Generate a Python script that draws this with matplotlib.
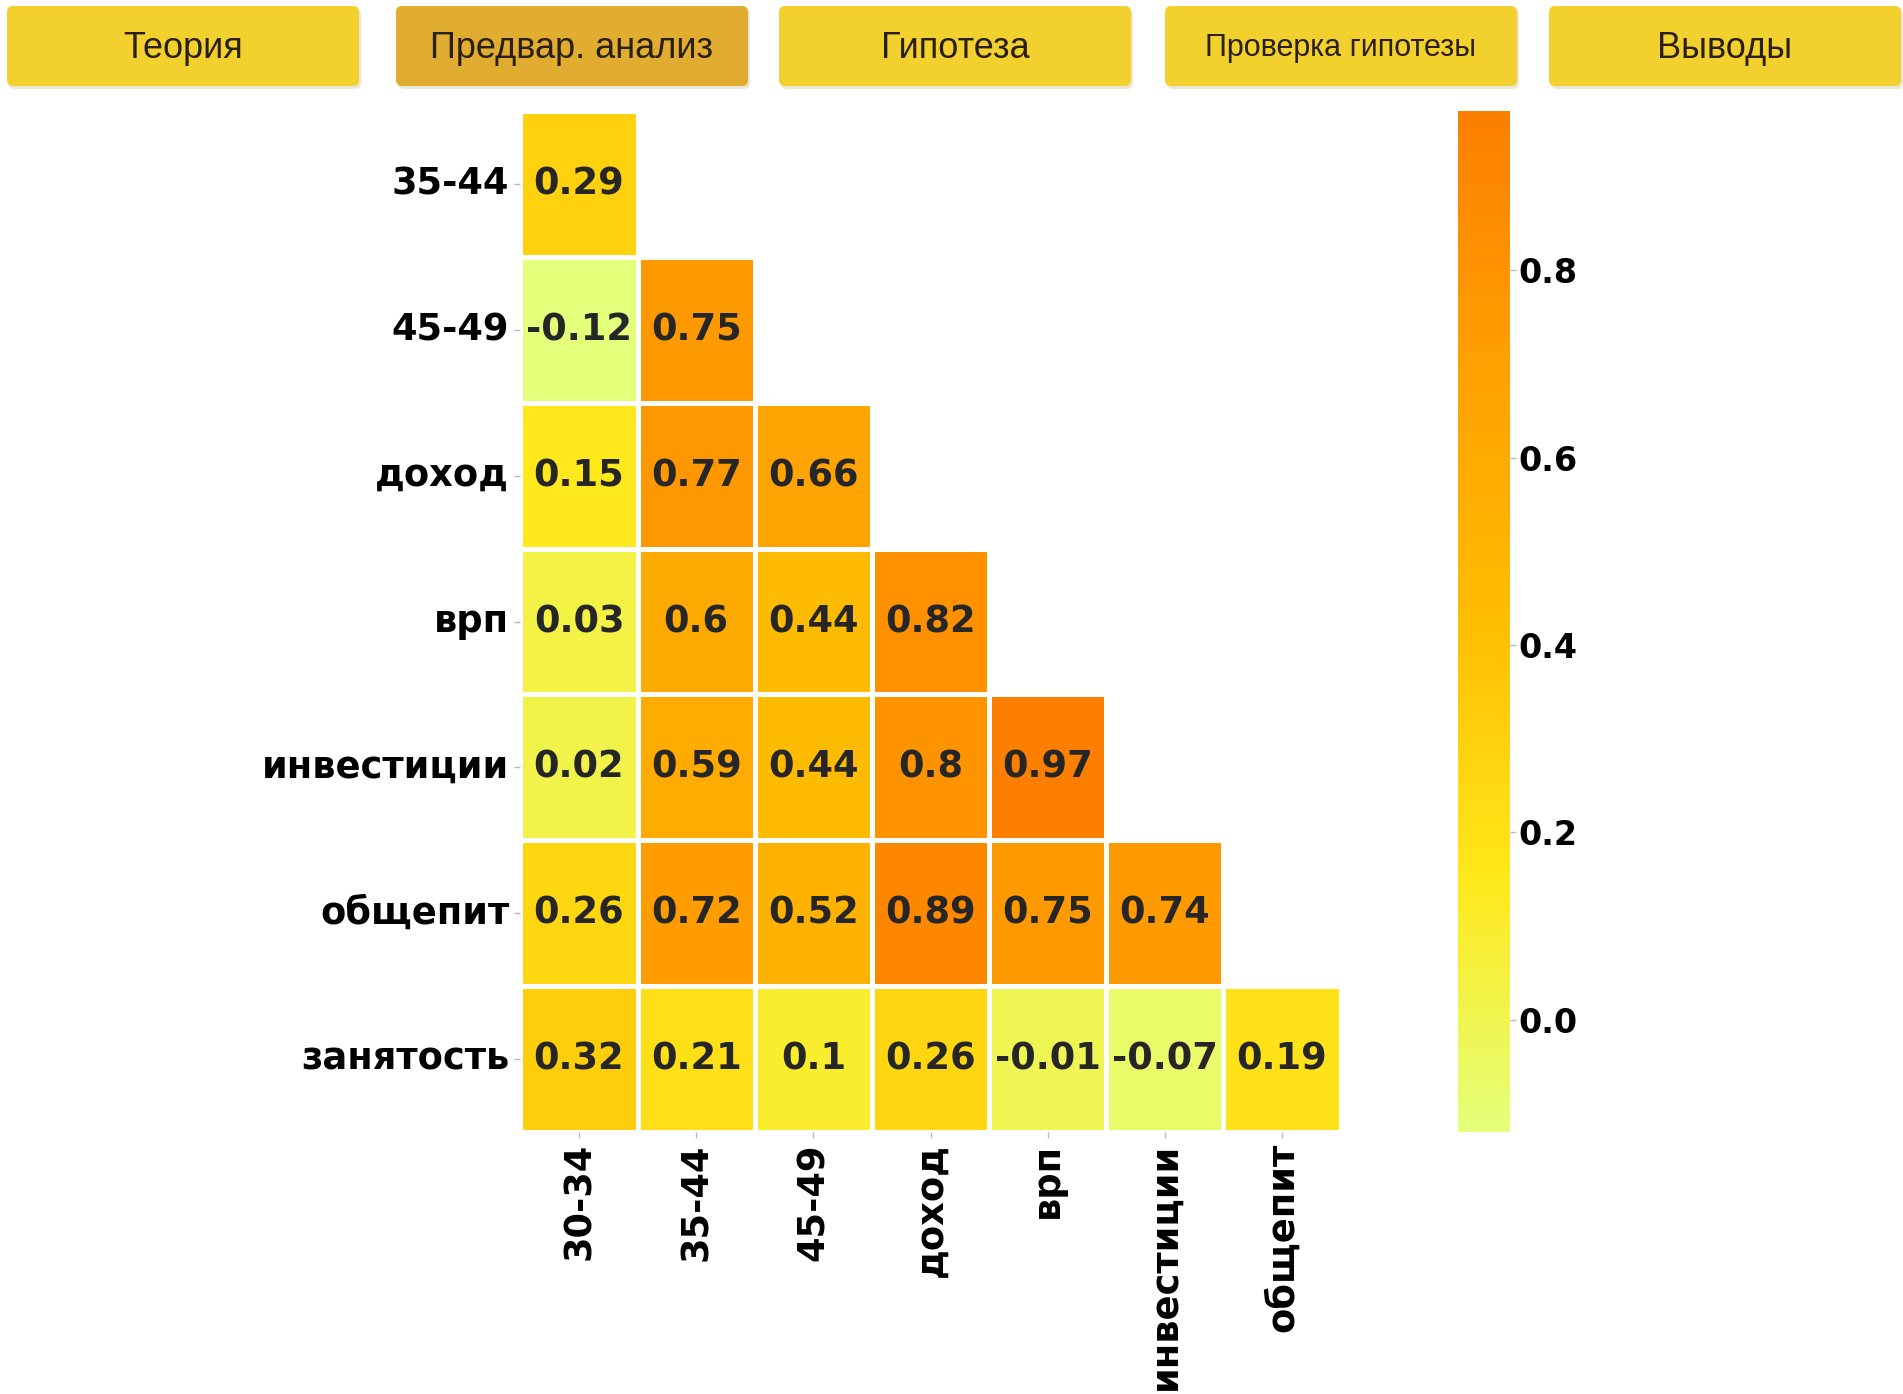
import numpy as np
import pandas as pd
import matplotlib
matplotlib.use('Agg')
import matplotlib.pyplot as plt
from matplotlib.patches import FancyBboxPatch
import seaborn as sns

# correlation values (lower triangle, diagonal and first row dropped)
row_labels = ['35-44', '45-49', 'доход', 'врп', 'инвестиции', 'общепит', 'занятость']
col_labels = ['30-34', '35-44', '45-49', 'доход', 'врп', 'инвестиции', 'общепит']
r_35_44 = [0.29]
r_45_49 = [-0.12, 0.75]
r_dohod = [0.15, 0.77, 0.66]
r_vrp = [0.03, 0.6, 0.44, 0.82]
r_invest = [0.02, 0.59, 0.44, 0.8, 0.97]
r_obshchepit = [0.26, 0.72, 0.52, 0.89, 0.75, 0.74]
r_zanyatost = [0.32, 0.21, 0.1, 0.26, -0.01, -0.07, 0.19]

tabs = ['Теория', 'Предвар. анализ', 'Гипотеза', 'Проверка гипотезы', 'Выводы']
active_tab = 'Предвар. анализ'

rows = [r_35_44, r_45_49, r_dohod, r_vrp, r_invest, r_obshchepit, r_zanyatost]
mat = np.full((len(rows), len(col_labels)), np.nan)
for i, r in enumerate(rows):
    mat[i, :len(r)] = r
corr = pd.DataFrame(mat, index=row_labels, columns=col_labels)

W, H = 1903, 1394
fig = plt.figure(figsize=(W / 100, H / 100), dpi=100)

# background axes in pixel coords for the tab buttons
bg = fig.add_axes([0, 0, 1, 1])
bg.set_xlim(0, W)
bg.set_ylim(H, 0)
bg.axis('off')

btn_x = [7, 396, 779, 1165, 1549]
btn_w = 352
btn_y, btn_h = 6, 80
for x0, name in zip(btn_x, tabs):
    col = '#e0ad30' if name == active_tab else '#f2d12f'
    shadow = FancyBboxPatch((x0 + 2, btn_y + 3), btn_w, btn_h,
                            boxstyle='round,pad=0,rounding_size=6',
                            fc='#d8d0b0', ec='none', alpha=0.5)
    bg.add_patch(shadow)
    box = FancyBboxPatch((x0, btn_y), btn_w, btn_h,
                         boxstyle='round,pad=0,rounding_size=6',
                         fc=col, ec='none')
    bg.add_patch(box)
    fs = 22 if len(name) > 15 else 26
    cap = fs / 72 * 100 * 0.716
    bg.text(x0 + btn_w / 2, 45 + cap / 2, name, ha='center', va='baseline',
            fontsize=fs, family='Liberation Sans', color='#2a1f10')

ax = fig.add_axes([0.2735, 0.1879, 0.4310, 0.7325])
cax = fig.add_axes([0.7662, 0.1879, 0.0273, 0.7325])

sns.heatmap(corr, ax=ax, cbar_ax=cax, cmap='Wistia', annot=True,
            linewidths=2.2, linecolor='white',
            annot_kws={'fontsize': 26.5, 'fontweight': 'bold', 'color': '#262626'})

ax.tick_params(axis='both', length=4, width=1, color='#b8b8b8', pad=4)
ax.set_yticklabels(row_labels, rotation=0, fontsize=26.5, fontweight='bold')
ax.set_xticklabels(col_labels, rotation=90, fontsize=26.5, fontweight='bold')

cax.tick_params(length=4, width=1, color='#b8b8b8', pad=2)
cax.set_yticks([0.0, 0.2, 0.4, 0.6, 0.8])
cax.set_yticklabels(['0.0', '0.2', '0.4', '0.6', '0.8'], fontsize=24, fontweight='bold')
for s in cax.spines.values():
    s.set_visible(False)

fig.savefig('out.png', dpi=100)
